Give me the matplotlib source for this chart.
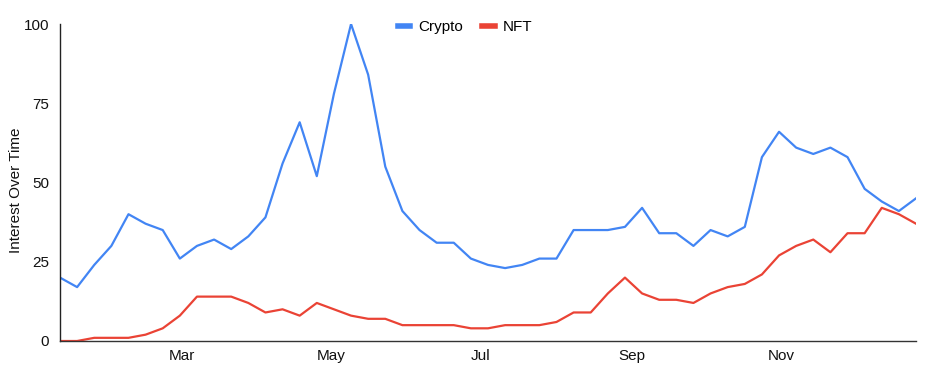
import matplotlib
matplotlib.use("Agg")
import matplotlib.pyplot as plt
import pandas as pd

plt.rcParams['font.family'] = ['Liberation Sans', 'DejaVu Sans']

start_date = "2021-01-10"
n_weeks = 51
dates = pd.date_range(start_date, periods=n_weeks, freq="7D")

crypto = [20, 17, 24, 30, 40, 37, 35, 26, 30, 32, 29, 33, 39, 56, 69, 52, 78, 100, 84, 55,
          41, 35, 31, 31, 26, 24, 23, 24, 26, 26, 35, 35, 35, 36, 42, 34, 34, 30, 35, 33,
          36, 58, 66, 61, 59, 61, 58, 48, 44, 41, 45]
nft = [0, 0, 1, 1, 1, 2, 4, 8, 14, 14, 14, 12, 9, 10, 8, 12, 10, 8, 7, 7,
       5, 5, 5, 5, 4, 4, 5, 5, 5, 6, 9, 9, 15, 20, 15, 13, 13, 12, 15, 17,
       18, 21, 27, 30, 32, 28, 34, 34, 42, 40, 37]

month_ticks = ["2021-03-01", "2021-05-01", "2021-07-01", "2021-09-01", "2021-11-01"]
month_labels = ["Mar", "May", "Jul", "Sep", "Nov"]
y_ticks = [0, 25, 50, 75, 100]

W, H = 926, 369
FS = 11
fig = plt.figure(figsize=(W / 100, H / 100), dpi=100)
ax = fig.add_axes([60 / W, 1 - 341 / H, (916 - 60) / W, (341 - 24) / H])

ax.plot(dates, crypto, color="#4285F4", lw=1.6, label="Crypto", solid_joinstyle="round")
ax.plot(dates, nft, color="#EA4335", lw=1.6, label="NFT", solid_joinstyle="round")

ax.set_xlim(dates[0], dates[-1])
ax.set_ylim(0, 100)
ax.set_yticks(y_ticks)
ax.set_yticklabels([str(v) for v in y_ticks])
ax.set_xticks(pd.to_datetime(month_ticks))
ax.set_xticklabels(month_labels)
ax.tick_params(axis="both", length=0, labelsize=FS, colors="#111111")
ax.tick_params(axis="y", pad=8)
ax.tick_params(axis="x", pad=6)

for s in ["top", "right"]:
    ax.spines[s].set_visible(False)
ax.spines["left"].set_color("#222222")
ax.spines["bottom"].set_color("#333333")
ax.spines["left"].set_linewidth(1.0)
ax.spines["bottom"].set_linewidth(1.0)

fig.text(16 / W, 1 - 190 / H, "Interest Over Time", rotation=90, ha="center", va="center",
         fontsize=FS, color="#111111")

handles, labels = ax.get_legend_handles_labels()
leg = fig.legend(handles, labels, loc="center", bbox_to_anchor=(465 / W, 1 - 27 / H),
                 ncol=2, frameon=False, fontsize=FS, handlelength=0.8,
                 handletextpad=0.5, columnspacing=1.3)
for line in leg.get_lines():
    line.set_linewidth(4)

fig.savefig("out.png", dpi=100)
